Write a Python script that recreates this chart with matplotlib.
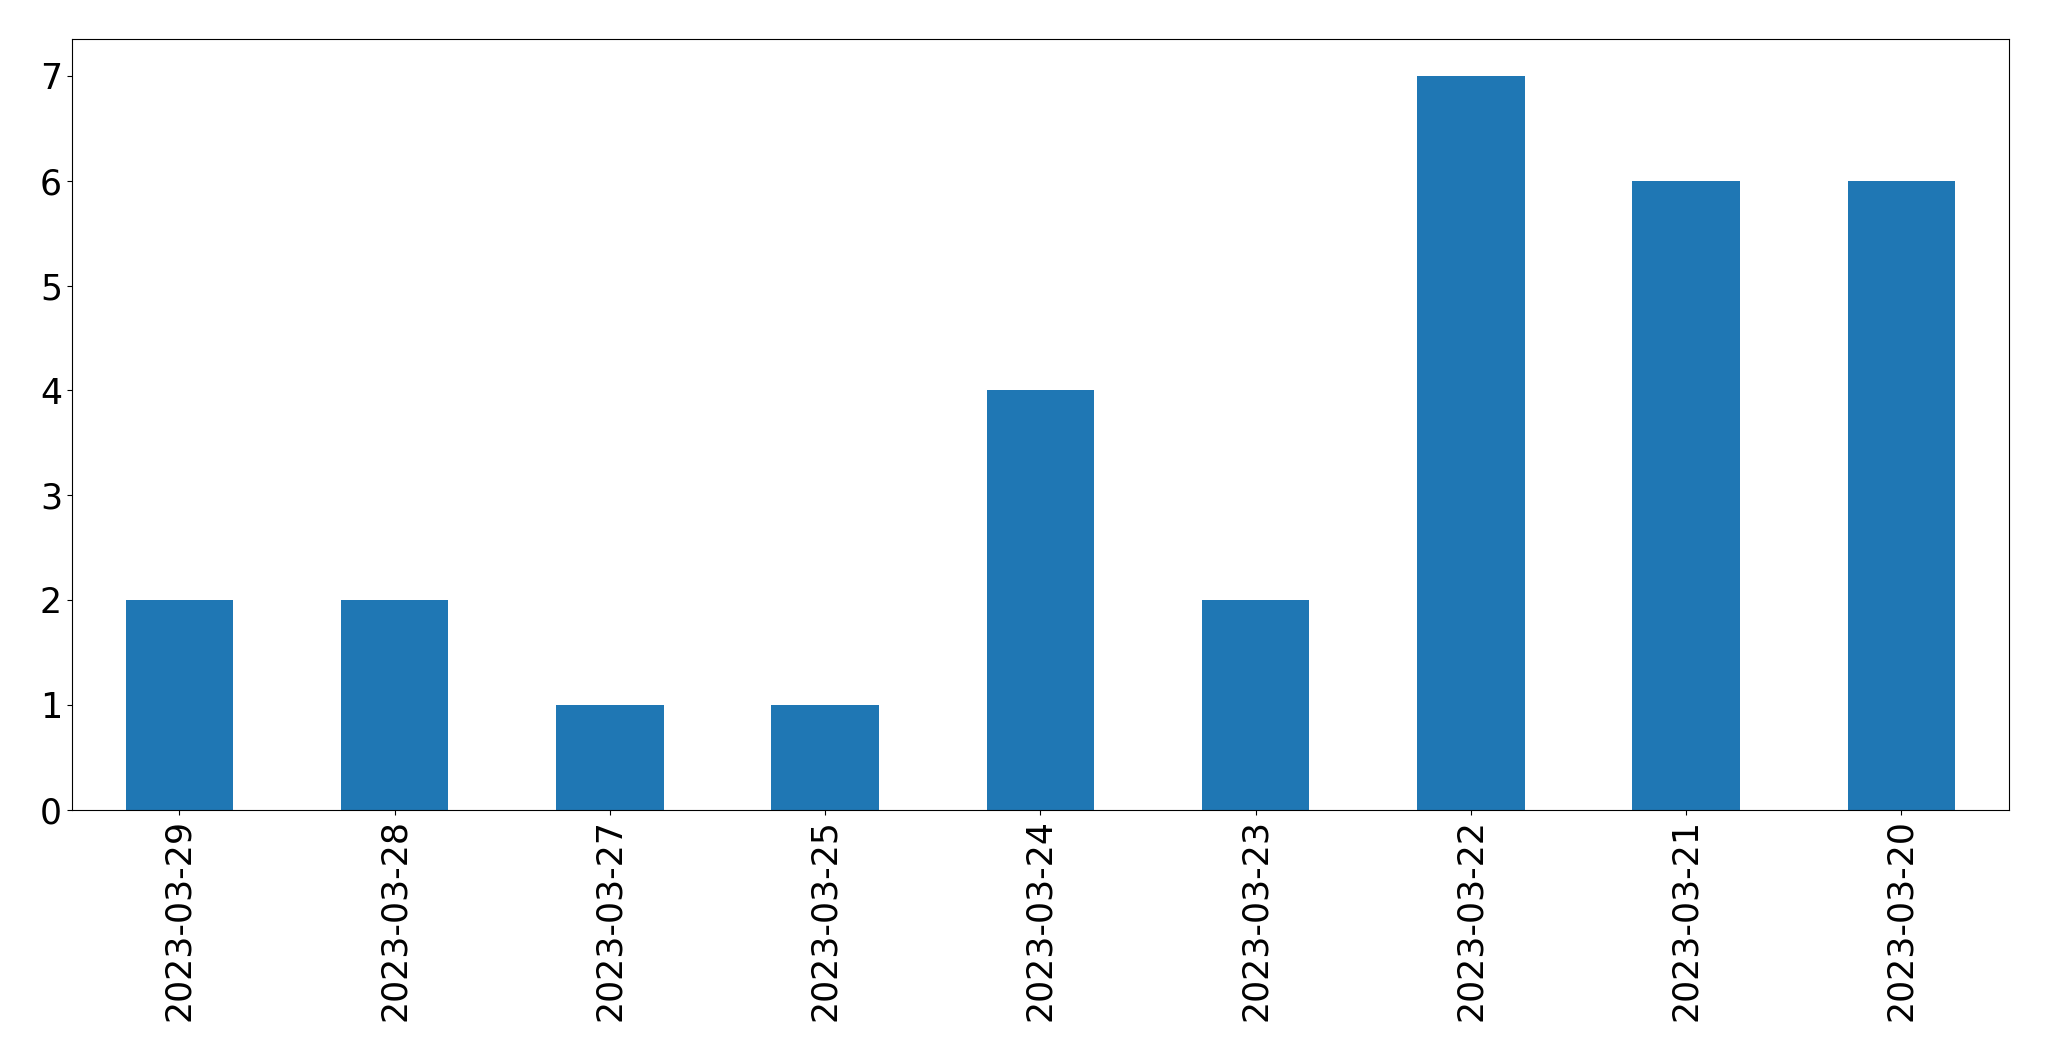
import matplotlib
matplotlib.use("Agg")
import matplotlib.pyplot as plt
import pandas as pd

dates = [
    "2023-03-29", "2023-03-28", "2023-03-27", "2023-03-25", "2023-03-24",
    "2023-03-23", "2023-03-22", "2023-03-21", "2023-03-20",
]
counts = [2, 2, 1, 1, 4, 2, 7, 6, 6]

series = pd.Series(counts, index=dates)

fig, ax = plt.subplots(figsize=(20.49, 10.61), dpi=100)
fig.subplots_adjust(left=0.035, right=0.9805, top=0.963, bottom=0.237)

series.plot(kind="bar", ax=ax, color="#1f77b4", fontsize=25)

plt.savefig("out.png", dpi=100)
